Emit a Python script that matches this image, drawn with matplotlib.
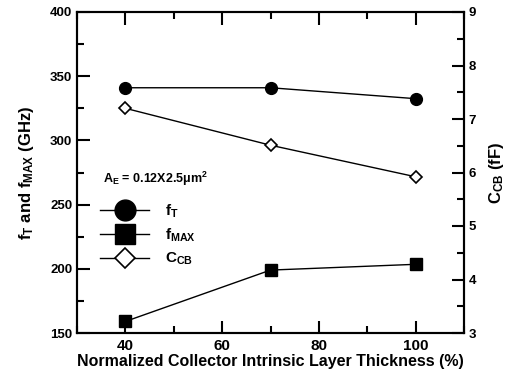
import matplotlib
matplotlib.use('Agg')
from matplotlib import pyplot as plt
from matplotlib.lines import Line2D
from matplotlib.ticker import MultipleLocator

plt.rcParams['font.family'] = ['Liberation Sans', 'DejaVu Sans']
plt.rcParams['font.weight'] = 'bold'
plt.rcParams['axes.labelweight'] = 'bold'
plt.rcParams['mathtext.fontset'] = 'custom'
plt.rcParams['mathtext.rm'] = 'Liberation Sans:bold'
plt.rcParams['mathtext.it'] = 'Liberation Sans:bold'
plt.rcParams['mathtext.bf'] = 'Liberation Sans:bold'

# data
thickness = [40, 70, 100]
f_t = [341, 341, 332.5]
f_max = [159, 199, 203.5]
c_cb = [7.2, 6.51, 5.92]

fig = plt.figure(figsize=(5.05, 3.75), dpi=100)
ax = fig.add_axes([77/505, 42/375, 387/505, 321/375])
ax2 = ax.twinx()

ax.plot(thickness, f_t, color='k', lw=1, marker='o', ms=8.5)
ax.plot(thickness, f_max, color='k', lw=1, marker='s', ms=8)
ax2.plot(thickness, c_cb, color='k', lw=1, marker='D', ms=6.5, mfc='white', mew=1.2)

ax.set_xlim(30, 110)
ax.set_ylim(150, 400)
ax2.set_ylim(3, 9)
ax.xaxis.set_major_locator(MultipleLocator(20))
ax.xaxis.set_minor_locator(MultipleLocator(10))
ax.yaxis.set_major_locator(MultipleLocator(50))
ax.yaxis.set_minor_locator(MultipleLocator(25))
ax2.yaxis.set_major_locator(MultipleLocator(1))
ax2.yaxis.set_minor_locator(MultipleLocator(0.5))

for a in (ax, ax2):
    for s in a.spines.values():
        s.set_linewidth(1.5)
    a.tick_params(which='both', direction='in', width=1.5, labelsize=9.5)
    a.tick_params(which='major', length=9)
    a.tick_params(which='minor', length=5)
ax.tick_params(which='both', top=True)
ax.tick_params(axis='x', labelsize=11, pad=4)

ax.set_xlabel('Normalized Collector Intrinsic Layer Thickness (%)', fontsize=11.5, labelpad=1)
ax.set_ylabel(r'$\mathrm{f_T}$ and $\mathrm{f_{MAX}}$ (GHz)', fontsize=12, labelpad=10)
ax2.set_ylabel(r'$\mathrm{C_{CB}}$ (fF)', fontsize=12, labelpad=8)

ax.text(35.3, 267, r'$\mathrm{A_E}$ = 0.12X2.5$\mathrm{\mu m^2}$', fontsize=9)

handles = [
    Line2D([], [], color='k', lw=1, marker='o', ms=15),
    Line2D([], [], color='k', lw=1, marker='s', ms=14),
    Line2D([], [], color='k', lw=1, marker='D', ms=10, mfc='white', mew=1.2),
]
labels = [r'$\mathrm{f_T}$', r'$\mathrm{f_{MAX}}$', r'$\mathrm{C_{CB}}$']
ax.legend(handles, labels, loc='upper left', bbox_to_anchor=(0.025, 0.45),
          frameon=False, fontsize=11, handlelength=3.2, labelspacing=0.45,
          handletextpad=1.0)

fig.savefig('out.png', dpi=100)
